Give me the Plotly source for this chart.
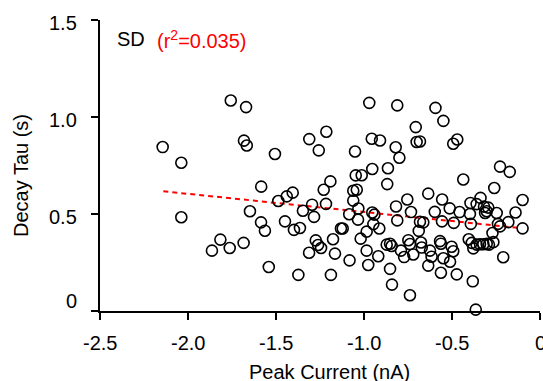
import plotly.graph_objects as go

# Peak current (nA) and decay tau (s)
peak_current = [
    -2.144, -2.038, -2.038, -1.864, -1.816, -1.763, -1.684, -1.757, -1.670, -1.682,
    -1.666, -1.648, -1.506, -1.311, -1.214, -1.257, -1.584, -1.191, -1.229, -1.487,
    -1.439, -1.405, -1.216, -1.295, -1.347, -1.284, -1.585, -1.563, -1.449, -1.398,
    -1.364, -1.274, -1.244, -1.312, -1.176, -1.131, -1.165, -1.541, -1.373, -1.188,
    -1.261, -1.082, -1.084, -0.970, -0.811, -0.594, -0.706, -0.956, -0.909, -0.701,
    -0.682, -1.051, -0.820, -0.799, -0.953, -0.864, -1.047, -1.013, -0.868, -1.061,
    -1.041, -0.635, -1.061, -0.754, -0.818, -1.032, -0.953, -0.941, -0.733, -0.598,
    -0.811, -0.682, -0.663, -1.121, -1.034, -0.985, -0.947, -0.913, -0.689, -1.019,
    -0.871, -0.852, -0.843, -0.748, -0.739, -0.676, -0.985, -0.919, -0.976, -0.790,
    -0.772, -0.720, -0.672, -0.625, -0.616, -0.635, -0.852, -0.841, -0.739, -0.549,
    -0.493, -0.470, -0.227, -0.172, -0.436, -0.260, -0.099, -0.556, -0.513, -0.457,
    -0.395, -0.360, -0.338, -0.318, -0.303, -0.294, -0.312, -0.246, -0.139, -0.557,
    -0.490, -0.393, -0.239, -0.227, -0.180, -0.099, -0.270, -0.568, -0.563, -0.502,
    -0.493, -0.405, -0.388, -0.379, -0.360, -0.341, -0.322, -0.303, -0.290, -0.265,
    -0.549, -0.511, -0.209, -0.563, -0.473, -0.382, -0.365, -0.398,
]
decay_tau = [
    0.845, 0.764, 0.483, 0.311, 0.368, 0.325, 0.351, 1.085, 1.051, 0.878,
    0.853, 0.514, 0.809, 0.886, 0.924, 0.828, 0.641, 0.668, 0.625, 0.567,
    0.591, 0.610, 0.552, 0.548, 0.517, 0.485, 0.457, 0.414, 0.462, 0.418,
    0.428, 0.364, 0.325, 0.300, 0.370, 0.425, 0.296, 0.227, 0.186, 0.186,
    0.340, 0.261, 0.499, 1.073, 1.060, 1.047, 0.948, 0.888, 0.879, 0.871,
    0.874, 0.822, 0.844, 0.790, 0.732, 0.736, 0.699, 0.700, 0.654, 0.620,
    0.625, 0.605, 0.569, 0.575, 0.539, 0.528, 0.508, 0.497, 0.510, 0.511,
    0.467, 0.460, 0.457, 0.425, 0.471, 0.409, 0.448, 0.425, 0.413, 0.373,
    0.342, 0.347, 0.335, 0.365, 0.345, 0.353, 0.311, 0.282, 0.237, 0.311,
    0.278, 0.291, 0.327, 0.311, 0.280, 0.234, 0.217, 0.136, 0.081, 0.980,
    0.862, 0.884, 0.744, 0.717, 0.678, 0.634, 0.572, 0.575, 0.529, 0.510,
    0.557, 0.551, 0.583, 0.538, 0.514, 0.533, 0.505, 0.505, 0.508, 0.462,
    0.454, 0.449, 0.449, 0.436, 0.458, 0.426, 0.402, 0.360, 0.347, 0.331,
    0.308, 0.370, 0.351, 0.323, 0.342, 0.344, 0.344, 0.346, 0.342, 0.355,
    0.272, 0.254, 0.277, 0.197, 0.189, 0.153, 0.007, 0.500,
]

# Regression line end points
fit_x = [-2.14, -0.12]
fit_y = [0.617, 0.428]

x_ticks = [-2.5, -2.0, -1.5, -1.0, -0.5, 0]
x_ticktext = ["-2.5", "-2.0", "-1.5", "-1.0", "-0.5", "0"]
y_ticks = [0, 0.5, 1.0, 1.5]
y_ticktext = ["0", "0.5", "1.0", "1.5"]

FONT = "Liberation Sans, Arial, sans-serif"

fig = go.Figure()
fig.add_trace(go.Scatter(
    x=fit_x, y=fit_y, mode="lines",
    line=dict(color="#ff0000", width=2, dash="5px,4px"),
    hoverinfo="skip", showlegend=False,
))
fig.add_trace(go.Scatter(
    x=peak_current, y=decay_tau, mode="markers",
    marker=dict(symbol="circle-open", size=11, color="black", line=dict(width=1.6, color="black")),
    cliponaxis=False, showlegend=False,
))

axis_common = dict(
    showline=True, linecolor="black", linewidth=1.6,
    ticks="outside", ticklen=7, tickwidth=1.6, tickcolor="black",
    showgrid=False, zeroline=False,
    tickfont=dict(family=FONT, size=20, color="black"),
)
# tick labels are drawn as annotations below (the "0" labels sit off their ticks)
fig.update_xaxes(range=[-2.5, 0], tickvals=x_ticks, showticklabels=False, **axis_common)
fig.update_yaxes(range=[0, 1.5], tickvals=y_ticks, showticklabels=False, **axis_common)

annotations = []
for v, t in zip(x_ticks, x_ticktext):
    annotations.append(dict(text=t, xref="x", yref="paper", x=v, y=0,
                            xanchor="center", yanchor="middle", yshift=-31.5,
                            showarrow=False, font=dict(size=20, color="black")))
for v, t in zip(y_ticks, y_ticktext):
    annotations.append(dict(text=t, xref="paper", yref="y", x=0, y=v,
                            xanchor="right", yanchor="middle", xshift=-21,
                            yshift=10 if v == 0 else -3,
                            showarrow=False, font=dict(size=20, color="black")))

annotations += [
    dict(text="SD", xref="x", yref="y", x=-2.415, y=1.402, xanchor="left", yanchor="middle",
         showarrow=False, font=dict(size=20, color="black")),
    dict(text="(r<sup>2</sup>=0.035)", xref="x", yref="y", x=-2.19, y=1.402,
         xanchor="left", yanchor="middle", showarrow=False,
         font=dict(size=20, color="#ff0000")),
    dict(text="Peak Current (nA)", xref="x", yref="paper", x=-1.196, y=0,
         xanchor="center", yanchor="middle", yshift=-61, showarrow=False,
         font=dict(size=20, color="black")),
    dict(text="Decay Tau (s)", xref="paper", yref="paper", x=0, y=0,
         xanchor="center", yanchor="middle", xshift=-79, yshift=135, textangle=-90,
         showarrow=False, font=dict(size=20, color="black")),
]

fig.update_layout(
    width=543, height=381,
    margin=dict(l=100, r=3, t=20, b=70),
    plot_bgcolor="white", paper_bgcolor="white",
    font=dict(family=FONT, size=20, color="black"),
    annotations=annotations,
)

fig.write_html("out.html")
